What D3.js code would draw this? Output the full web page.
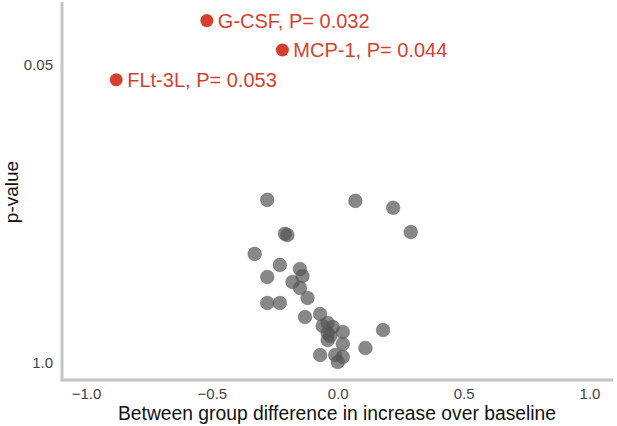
<!DOCTYPE html>
<html>
<head>
<meta charset="utf-8">
<script src="https://cdn.jsdelivr.net/npm/d3@7"></script>
<style>
  body { margin: 0; background: #fff; }
  text { font-family: "Liberation Sans", Arial, sans-serif; }
</style>
</head>
<body>
<script>
'use strict';

var width = 617,
    height = 426;

// highlighted analytes (label, difference, p)
var hitNames = ['G-CSF', 'MCP-1', 'FLt-3L'];
var hitDiff  = [-0.52, -0.22, -0.88];
var hitP     = [0.032, 0.043, 0.058];
var hitText  = ['P= 0.032', 'P= 0.044', 'P= 0.053'];

// remaining analytes
var diffs = [-0.28, 0.07, 0.22, 0.29, -0.21, -0.20, -0.33, -0.23, -0.15, -0.14,
             -0.28, -0.18, -0.15, -0.12, -0.28, -0.23, -0.13, -0.07, -0.04, -0.02,
             -0.04, 0.02, -0.04, 0.02, 0.18, 0.11, -0.07, -0.01, 0.02, 0.00,
             -0.06, -0.03];
var pvals = [0.194, 0.196, 0.210, 0.268, 0.273, 0.276, 0.334, 0.373, 0.389, 0.417,
             0.421, 0.443, 0.470, 0.520, 0.547, 0.547, 0.630, 0.611, 0.669, 0.696,
             0.740, 0.732, 0.794, 0.826, 0.718, 0.860, 0.923, 0.923, 0.942, 0.99,
             0.689, 0.762];

var xTicks = [-1, -0.5, 0, 0.5, 1];
var yTicks = [0.05, 1];
var yTickLabels = ['0.05', '1.0'];

var svg = d3.select('body').append('svg')
    .attr('width', width)
    .attr('height', height);

var x = d3.scaleLinear().domain([-1, 1]).range([86, 589.5]);
var y = d3.scaleLog().domain([1, 0.05]).range([363, 65]);

// axes (labels only, lines drawn separately)
var xAxis = svg.append('g')
    .attr('transform', 'translate(0,380)')
    .call(d3.axisBottom(x).tickValues(xTicks).tickSize(0).tickPadding(8)
      .tickFormat(d3.format('.1f')));

var yAxis = svg.append('g')
    .attr('transform', 'translate(62,0)')
    .call(d3.axisLeft(y).tickValues(yTicks).tickSize(0).tickPadding(9)
      .tickFormat(function(d, i) { return yTickLabels[i]; }));

[xAxis, yAxis].forEach(function(g) {
  g.select('.domain').remove();
  g.selectAll('text')
    .attr('fill', '#444')
    .style('font-size', '15px')
    .style('font-family', '"Liberation Sans", Arial, sans-serif');
});

svg.append('path')
    .attr('d', 'M62,2V380H613')
    .attr('fill', 'none')
    .attr('stroke', '#c4c4c4')
    .attr('stroke-width', 3);

// axis titles
svg.append('text')
    .attr('x', 337)
    .attr('y', 420)
    .attr('text-anchor', 'middle')
    .style('font-size', '19.3px')
    .attr('fill', '#111')
    .text('Between group difference in increase over baseline');

svg.append('text')
    .attr('transform', 'translate(18,192) rotate(-90)')
    .attr('text-anchor', 'middle')
    .style('font-size', '19px')
    .attr('fill', '#111')
    .text('p-value');

// gray points
var points = diffs.map(function(d, i) { return { x: d, p: pvals[i] }; });

svg.append('g').selectAll('circle')
    .data(points)
  .enter().append('circle')
    .attr('cx', function(d) { return x(d.x); })
    .attr('cy', function(d) { return y(d.p); })
    .attr('r', 6.8)
    .attr('fill', '#555')
    .attr('fill-opacity', 0.7)
    .attr('stroke', '#555')
    .attr('stroke-opacity', 0.45);

// highlighted points
var hits = hitNames.map(function(n, i) {
  return { name: n, x: hitDiff[i], p: hitP[i], label: hitText[i] };
});

var hitG = svg.append('g').selectAll('g')
    .data(hits)
  .enter().append('g')
    .attr('transform', function(d) { return 'translate(' + x(d.x) + ',' + y(d.p) + ')'; });

hitG.append('circle')
    .attr('r', 6.5)
    .attr('fill', '#d63f2d');

hitG.append('text')
    .attr('x', 11)
    .attr('dy', '0.35em')
    .attr('fill', '#d63f2d')
    .style('font-size', '20px')
    .text(function(d) { return d.name + ', ' + d.label; });
</script>
</body>
</html>
